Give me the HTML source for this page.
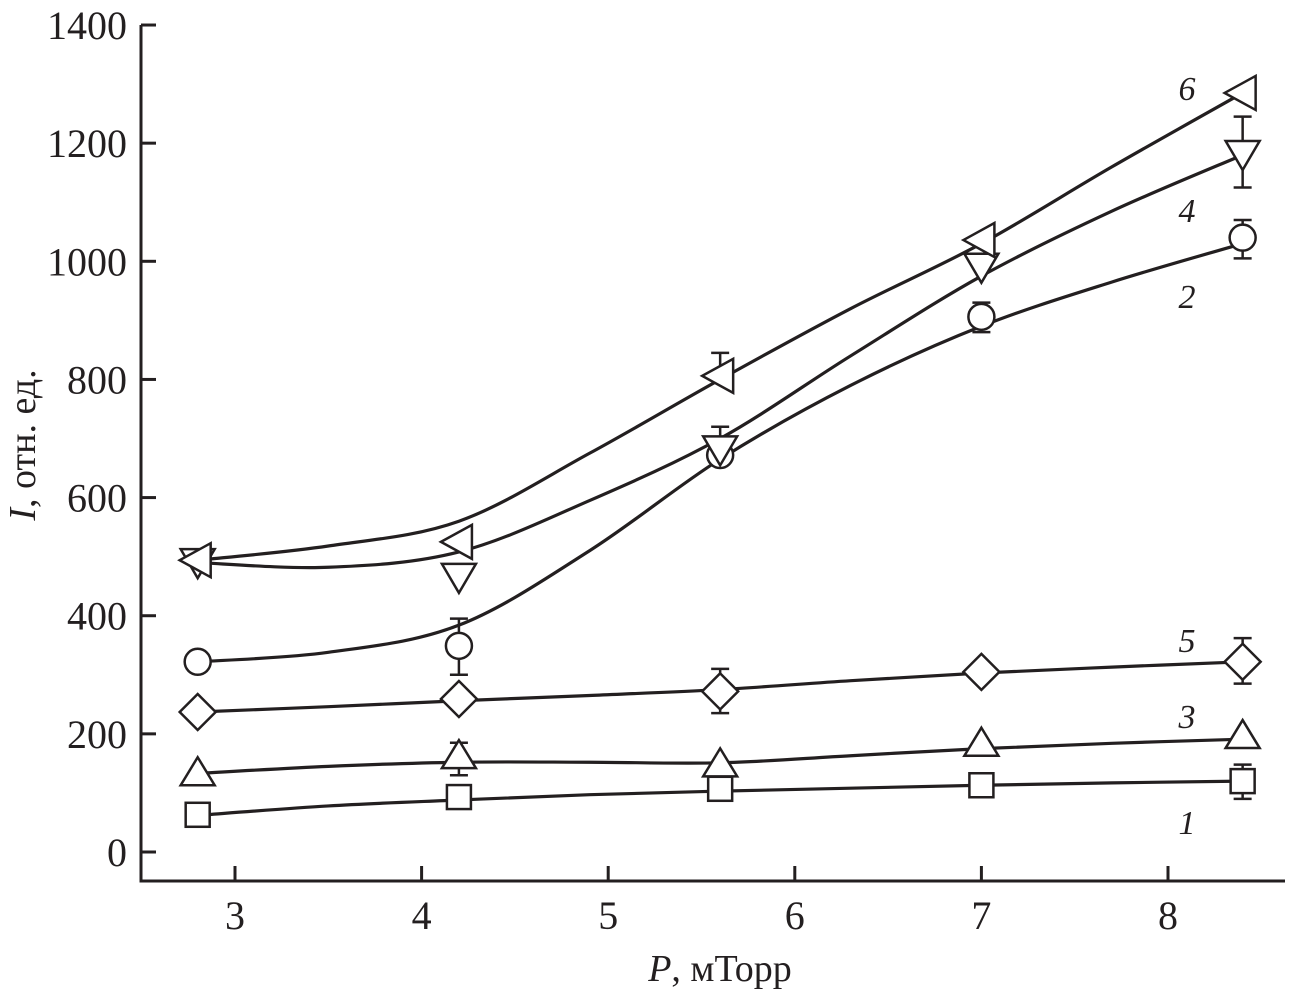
<!DOCTYPE html>
<html><head><meta charset="utf-8"><style>
html,body{margin:0;padding:0;background:#fff;}
svg text{font-family:"Liberation Serif",serif;fill:#231f20;}
</style></head><body>
<svg id="chart" width="1302" height="991" viewBox="0 0 1302 991" xmlns="http://www.w3.org/2000/svg">
<g id="axes"></g>
<g id="plot"></g>
<text x="720" y="981" font-size="38" text-anchor="middle"><tspan font-style="italic">P</tspan>, мТорр</text>
<text transform="translate(35,445) rotate(-90)" font-size="38" text-anchor="middle"><tspan font-style="italic">I</tspan>, отн. ед.</text>
</svg>
<script>
const xPoints=[2.8,4.2,5.6,7.0,8.4];
const s1=[63,93,107,113,120];
const s2=[322,349,672,906,1040];
const s3=[135,164,150,185,198];
const s4=[489,464,680,989,1180];
const s5=[237,259,272,305,322];
const s6=[494,525,806,1036,1285];
const fitX=[2.8,3.5,4.2,4.9,5.6,6.3,7.0,7.7,8.4];
const f1=[62,78,88,97,103,108,113,117,120];
const f2=[322,338,384,510,665,790,890,965,1030];
const f3=[133,145,152,152,151,163,175,184,191];
const f4=[490,482,508,595,700,840,975,1085,1180];
const f5=[237,246,256,265,275,290,303,313,322];
const f6=[494,518,560,675,800,920,1030,1160,1285];
const errs=[[2,1,300,395],[2,3,880,930],[2,4,1005,1070],[4,4,1125,1245],[4,2,680,720],[6,2,806,845],[5,2,235,310],[5,4,285,362],[3,1,130,185],[1,4,90,148]];
const xTicks=[3,4,5,6,7,8];
const yTicks=[0,200,400,600,800,1000,1200,1400];
const labelNames=["1","2","3","4","5","6"];
const labelY=[51,941,230,1087,359,1293];

const NS="http://www.w3.org/2000/svg";
const X=v=>235+(v-3)*186.6;
const Y=v=>852-v*0.5907;
function mk(t,a,p){const e=document.createElementNS(NS,t);for(const k in a)e.setAttribute(k,a[k]);p.appendChild(e);return e;}
const axes=document.getElementById('axes'),plot=document.getElementById('plot');
let ax=mk('path',{d:'M141,25 V881 H1285',fill:'none',stroke:'#231f20','stroke-width':3},axes);

yTicks.forEach(v=>{
 let t=mk('line',{x1:141,x2:156,y1:Y(v),y2:Y(v),stroke:'#231f20','stroke-width':3},axes);
 
 let l=mk('text',{x:127,y:Y(v)+14,'font-size':40,'text-anchor':'end'},axes);l.textContent=v;
 
});
xTicks.forEach(v=>{
 let t=mk('line',{x1:X(v),x2:X(v),y1:881,y2:866,stroke:'#231f20','stroke-width':3},axes);
 
 let l=mk('text',{x:X(v),y:929,'font-size':40,'text-anchor':'middle'},axes);l.textContent=v;
 
});
function curve(fx,fy){
 const p=fx.map((x,i)=>[X(x),Y(fy[i])]);
 let d='M'+p[0][0]+','+p[0][1];
 for(let i=0;i<p.length-1;i++){
  const p0=p[Math.max(0,i-1)],p1=p[i],p2=p[i+1],p3=p[Math.min(p.length-1,i+2)];
  d+=' C'+(p1[0]+(p2[0]-p0[0])/6)+','+(p1[1]+(p2[1]-p0[1])/6)+' '+(p2[0]-(p3[0]-p1[0])/6)+','+(p2[1]-(p3[1]-p1[1])/6)+' '+p2[0]+','+p2[1];
 }
 return d;
}
const fits=[f1,f2,f3,f4,f5,f6];
const series=[s1,s2,s3,s4,s5,s6];
fits.forEach((f,i)=>{
 let c=mk('path',{d:curve(fitX,f),fill:'none',stroke:'#231f20','stroke-width':3.2},plot);
 
});
errs.forEach(e=>{
 const x=X(xPoints[e[1]]);
 let g=mk('path',{d:`M${x},${Y(e[2])} V${Y(e[3])} M${x-9},${Y(e[2])} H${x+9} M${x-9},${Y(e[3])} H${x+9}`,stroke:'#231f20','stroke-width':2.5,fill:'none'},plot);
 
});
function marker(k,cx,cy){
 const a={fill:'#fff',stroke:'#231f20','stroke-width':2.5};let e;
 if(k==0)e=mk('rect',Object.assign({x:cx-12,y:cy-12,width:24,height:24},a),plot);
 else if(k==1)e=mk('circle',Object.assign({cx:cx,cy:cy,r:13},a),plot);
 else if(k==2)e=mk('polygon',Object.assign({points:`${cx},${cy-15} ${cx+17},${cy+13} ${cx-17},${cy+13}`},a),plot);
 else if(k==3)e=mk('polygon',Object.assign({points:`${cx-17},${cy-14} ${cx+17},${cy-14} ${cx},${cy+15}`},a),plot);
 else if(k==4)e=mk('polygon',Object.assign({points:`${cx},${cy-18} ${cx+18},${cy} ${cx},${cy+18} ${cx-18},${cy}`},a),plot);
 else e=mk('polygon',Object.assign({points:`${cx-18},${cy} ${cx+13},${cy-17} ${cx+13},${cy+17}`},a),plot);
 return e;
}
series.forEach((s,k)=>{
 s.forEach((v,i)=>{
  const m=marker(k,X(xPoints[i]),Y(v));
  
  
 });
 let l=mk('text',{x:1187,y:Y(labelY[k])+12,'font-size':34,'font-style':'italic','text-anchor':'middle'},plot);
 l.textContent=labelNames[k];
 
 
});
</script>
</body></html>
